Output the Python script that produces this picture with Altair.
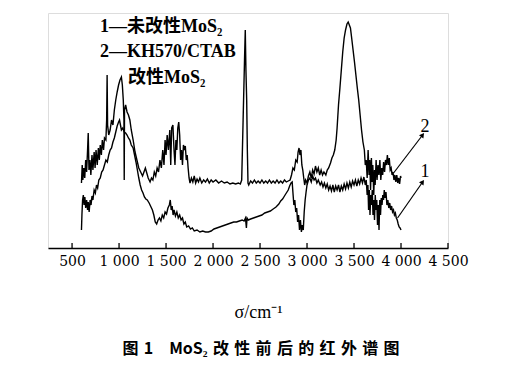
import altair as alt
import pandas as pd

# Curve 1: unmodified MoS2 (wavenumber, relative signal in arbitrary units, larger = lower on chart)
CURVE1 = [
    (600,230),(605,215),(612,200),(620,195),(628,205),(636,197),(645,208),(655,200),(665,210),(672,202),
    (682,212),(692,200),(702,205),(712,196),(722,200),(735,190),(748,193),(760,185),(772,188),(785,180),
    (800,178),(815,172),(830,170),(845,165),(860,160),(875,162),(890,155),(905,150),(920,148),(935,142),
    (950,138),(965,132),(980,126),(995,122),(1005,120),(1015,125),(1025,130),(1040,128),(1055,132),(1070,133),
    (1085,135),(1100,138),(1115,140),(1130,145),(1150,148),(1165,155),(1180,162),(1195,170),(1210,178),(1225,185),
    (1240,190),(1255,193),(1270,197),(1285,199),(1300,200),(1320,203),(1340,207),(1355,210),(1370,215),(1385,222),
    (1400,224),(1415,220),(1430,218),(1445,221),(1460,215),(1475,218),(1490,212),(1505,214),(1520,208),(1535,205),
    (1545,200),(1555,210),(1565,206),(1575,215),(1585,210),(1600,216),(1615,212),(1630,218),(1645,215),(1660,220),
    (1675,218),(1690,224),(1705,222),(1720,227),(1740,226),(1760,229),(1780,228),(1800,231),(1830,230),(1860,232),
    (1890,231),(1920,232),(1950,232),(1980,231),(2010,229),(2040,228),(2070,227),(2100,226),(2130,225),(2160,224),
    (2190,223),(2220,222),(2250,222),(2280,221),(2310,220),(2330,221),(2345,218),(2355,228),(2362,218),(2375,220),
    (2400,219),(2430,218),(2460,217),(2490,216),(2520,215),(2550,213),(2580,212),(2610,211),(2640,209),(2670,207),
    (2700,204),(2720,201),(2740,199),(2760,196),(2780,193),(2800,190),(2815,186),(2830,183),(2842,182),(2852,195),
    (2860,205),(2870,200),(2880,212),(2890,208),(2900,222),(2910,215),(2920,230),(2930,220),(2940,232),(2950,225),
    (2960,230),(2970,212),(2980,200),(2990,192),(3000,185),(3015,180),(3030,178),(3045,182),(3060,176),(3075,180),
    (3090,178),(3105,183),(3120,180),(3140,185),(3155,182),(3170,187),(3185,183),(3200,188),(3215,184),(3230,190),
    (3245,186),(3260,191),(3275,185),(3290,192),(3305,186),(3320,190),(3335,185),(3350,192),(3365,186),(3380,190),
    (3395,184),(3410,189),(3425,183),(3440,188),(3455,182),(3470,187),(3485,181),(3500,185),(3515,180),(3530,186),
    (3545,180),(3560,184),(3575,178),(3590,183),(3605,177),(3620,185),(3630,180),(3640,195),(3648,185),(3655,210),
    (3663,190),(3670,215),(3678,195),(3686,205),(3694,190),(3702,215),(3710,200),(3718,220),(3726,195),(3734,210),
    (3742,200),(3750,225),(3758,205),(3766,230),(3774,200),(3782,215),(3790,198),(3798,205),(3806,195),(3814,200),
    (3822,190),(3830,198),(3840,192),(3850,205),(3860,200),(3870,208),(3880,203),(3890,210),(3900,206),(3910,212),
    (3920,210),(3930,215),(3940,213),(3950,218),(3960,220),(3970,224),(3980,227),(3990,228),(4000,230),
]

# Curve 2: KH570/CTAB modified MoS2
CURVE2 = [
    (600,183),(608,165),(615,180),(625,168),(635,178),(645,160),(655,172),(665,150),(672,133),(680,170),
    (690,160),(700,175),(712,155),(722,170),(735,152),(745,168),(755,150),(768,165),(780,148),(790,160),
    (800,145),(812,155),(822,140),(835,150),(845,138),(860,140),(868,120),(873,75),(878,125),(890,135),
    (905,130),(920,120),(935,125),(950,110),(965,100),(980,92),(995,85),(1010,80),(1025,77),(1035,85),
    (1045,100),(1052,120),(1055,180),(1058,110),(1070,105),(1085,112),(1100,115),(1115,120),(1130,130),(1150,140),
    (1170,152),(1190,160),(1210,168),(1230,172),(1250,176),(1265,172),(1280,168),(1295,173),(1310,178),(1330,182),
    (1345,178),(1360,180),(1375,172),(1390,176),(1405,168),(1420,172),(1435,160),(1450,168),(1465,150),(1478,165),
    (1490,140),(1500,155),(1512,135),(1525,150),(1540,130),(1550,165),(1560,128),(1573,125),(1585,150),(1595,165),
    (1605,140),(1615,150),(1625,128),(1635,122),(1645,135),(1655,160),(1665,150),(1675,165),(1685,145),(1695,150),
    (1705,146),(1715,160),(1725,155),(1735,168),(1745,178),(1755,183),(1770,178),(1785,182),(1800,176),(1815,183),
    (1830,179),(1845,182),(1860,178),(1880,183),(1900,180),(1920,182),(1940,179),(1960,183),(1980,180),(2000,182),
    (2030,180),(2060,183),(2090,181),(2120,183),(2150,182),(2180,184),(2210,183),(2240,184),(2270,183),(2290,184),
    (2305,180),(2320,120),(2335,60),(2343,30),(2350,70),(2358,100),(2365,150),(2372,183),(2380,185),(2400,181),
    (2420,183),(2440,180),(2460,183),(2480,181),(2500,183),(2520,180),(2540,183),(2560,181),(2580,183),(2600,180),
    (2620,183),(2640,181),(2660,183),(2680,180),(2700,183),(2720,181),(2740,183),(2760,180),(2780,182),(2800,181),
    (2820,180),(2835,175),(2850,168),(2865,170),(2880,160),(2895,162),(2905,152),(2915,148),(2925,155),(2935,150),
    (2945,165),(2955,170),(2965,178),(2975,185),(2985,180),(3000,183),(3015,176),(3030,172),(3045,178),(3060,170),
    (3075,174),(3090,166),(3105,172),(3120,168),(3135,175),(3150,170),(3165,175),(3180,172),(3200,175),(3215,170),
    (3230,168),(3250,163),(3265,158),(3280,155),(3295,150),(3310,140),(3320,128),(3335,105),(3350,88),(3365,70),
    (3380,52),(3395,38),(3410,30),(3425,24),(3438,22),(3450,25),(3462,28),(3475,38),(3490,50),(3505,62),
    (3520,75),(3535,88),(3550,100),(3565,115),(3580,130),(3595,142),(3610,150),(3620,165),(3630,160),(3640,178),
    (3650,150),(3660,175),(3668,160),(3676,190),(3685,158),(3693,182),(3700,165),(3710,195),(3718,170),(3725,185),
    (3735,160),(3745,180),(3755,165),(3765,175),(3775,160),(3785,180),(3795,168),(3805,175),(3815,162),(3825,172),
    (3835,160),(3845,165),(3855,155),(3865,165),(3875,158),(3885,170),(3895,168),(3905,175),(3915,172),(3925,180),
    (3935,175),(3945,182),(3955,175),(3965,183),(3975,178),(3985,184),(3995,176),(4000,178),
]

TICKS = [500, 1000, 1500, 2000, 2500, 3000, 3500, 4000, 4500]
LEGEND_TEXT = ["1—未改性MoS₂", "2—KH570/CTAB", "改性MoS₂"]
LEGEND_WN = [797, 797, 1095]
LEGEND_V = [27, 52, 78]
ARROW_LABELS = ["2", "1"]
ARROW_FROM = [(3921, 173), (3963, 218)]
ARROW_TO = [(4230, 135), (4230, 182)]
ARROW_ANGLE = [37, 35]
LABEL_POS = [(4255, 127), (4255, 172)]

X_DOMAIN = [244, 4500]
Y_DOMAIN = [248, 13]

xs = alt.Scale(domain=X_DOMAIN, nice=False, zero=False)
ys = alt.Scale(domain=Y_DOMAIN, nice=False, zero=False)

rows = []
for i, (w, v) in enumerate(CURVE1):
    rows.append({"wn": w, "v": v, "series": "1", "i": i})
for i, (w, v) in enumerate(CURVE2):
    rows.append({"wn": w, "v": v, "series": "2", "i": i})
df = pd.DataFrame(rows)

xaxis = alt.Axis(
    values=TICKS, ticks=False, grid=False, domain=True, domainColor="black", domainWidth=1.5,
    labelFont="DejaVu Serif", labelFontSize=14, labelColor="black", labelPadding=6,
    labelOverlap=False, labelBound=False, labelFlush=False,
    labelExpr="replace(format(datum.value, ',d'), ',', ' ')",
    title="σ/cm⁻¹", titleFont="Liberation Serif", titleFontSize=18, titleFontWeight="normal",
    titleColor="black", titleX=210, titleY=64, titleBaseline="middle", titleAlign="center",
)

lines = alt.Chart(df).mark_line(color="black", strokeWidth=1.4).encode(
    x=alt.X("wn:Q", scale=xs, axis=xaxis),
    y=alt.Y("v:Q", scale=ys, axis=None),
    detail="series:N",
    order="i:Q",
)

tick_df = pd.DataFrame({"wn": TICKS, "v": [248] * len(TICKS), "v2": [243] * len(TICKS)})
ticks = alt.Chart(tick_df).mark_rule(color="black", strokeWidth=1.3).encode(
    x=alt.X("wn:Q", scale=xs), y=alt.Y("v:Q", scale=ys), y2="v2:Q"
)

leg_df = pd.DataFrame({"wn": LEGEND_WN, "v": LEGEND_V, "t": LEGEND_TEXT})
legend = alt.Chart(leg_df).mark_text(
    align="left", baseline="middle", font="Liberation Serif, Noto Sans CJK SC",
    fontSize=18, fontWeight="bold", color="black"
).encode(x=alt.X("wn:Q", scale=xs), y=alt.Y("v:Q", scale=ys), text="t:N")

arr_df = pd.DataFrame({
    "wn": [a[0] for a in ARROW_FROM], "v": [a[1] for a in ARROW_FROM],
    "wn2": [a[0] for a in ARROW_TO], "v2": [a[1] for a in ARROW_TO],
    "ang": ARROW_ANGLE,
})
arrows = alt.Chart(arr_df).mark_rule(color="black", strokeWidth=1.2).encode(
    x=alt.X("wn:Q", scale=xs), y=alt.Y("v:Q", scale=ys), x2="wn2:Q", y2="v2:Q"
)
heads = alt.Chart(arr_df).mark_point(shape="triangle-up", filled=True, color="black", size=30, opacity=1).encode(
    x=alt.X("wn2:Q", scale=xs), y=alt.Y("v2:Q", scale=ys), angle=alt.Angle("ang:Q", scale=None)
)

lab_df = pd.DataFrame({"wn": [p[0] for p in LABEL_POS], "v": [p[1] for p in LABEL_POS], "t": ARROW_LABELS})
labels = alt.Chart(lab_df).mark_text(
    align="center", baseline="middle", font="Liberation Serif", fontSize=18, color="black"
).encode(x=alt.X("wn:Q", scale=xs), y=alt.Y("v:Q", scale=ys), text="t:N")

S = "\u2004"
caption = "图" + S + "1" + S * 3 + "MoS₂" + S + S.join(list("改性前后的红外谱图"))

chart = alt.layer(lines, ticks, legend, arrows, heads, labels).properties(
    width=400, height=235,
    padding={"left": 40, "top": 5, "right": 5, "bottom": 5},
    title=alt.TitleParams(
        text=caption, orient="bottom", anchor="middle", dx=13, offset=20,
        font="Noto Sans CJK SC", fontSize=16, fontWeight="bold", color="black",
    ),
).configure_view(stroke=None).configure(background="white")

chart.save("out.html", embed_options={"renderer": "svg", "actions": False})
